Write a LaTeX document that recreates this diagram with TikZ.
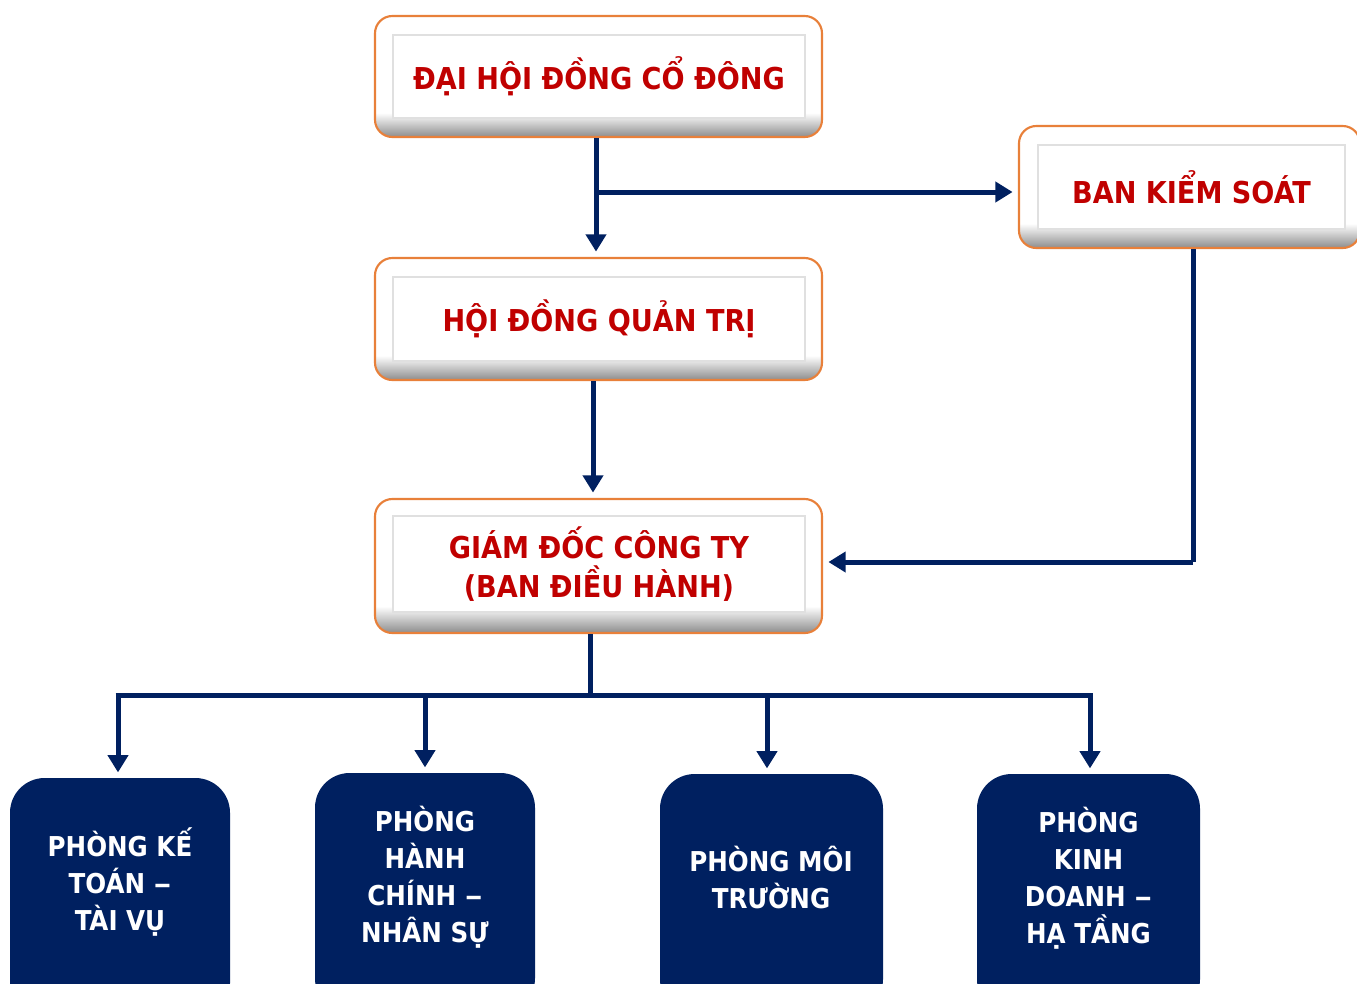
\documentclass[tikz,border=0pt]{standalone}
\usepackage{fontspec}
\usepackage{graphicx}
\setmainfont{DejaVu Sans Condensed}
\usetikzlibrary{arrows.meta}
\definecolor{navy}{HTML}{002060}
\definecolor{redtxt}{HTML}{C00000}
\definecolor{orangeb}{HTML}{E8803A}
\pgfdeclareverticalshading{bevel}{100bp}{color(0bp)=(black!45); color(25bp)=(black!45); color(35bp)=(white); color(100bp)=(white)}
\newcommand{\ldash}{\scalebox{1.45}[1]{–}}
\begin{document}
\begin{tikzpicture}[x=0.75pt,y=-0.75pt,
  outerbox/.style={draw=orangeb, line width=1.6pt, rounded corners=13pt, shading=bevel, inner sep=0pt},
  innerbox/.style={draw=black!12, line width=0.8pt, fill=white, inner sep=0pt, text=redtxt,
    font=\bfseries\fontsize{22.6}{29}\selectfont, align=center},
  navybox/.style={fill=navy, rounded corners=26pt, inner sep=0pt, minimum height=240*0.75pt},
  wtext/.style={text=white, font=\bfseries\fontsize{20.5}{27.75}\selectfont, align=center, inner sep=0pt},
  conn/.style={draw=navy, line width=3.75pt, -{Triangle[width=15pt,length=13pt]}, shorten >=4pt},
  plain/.style={draw=navy, line width=3.75pt}
]
\useasboundingbox (0,0) rectangle (1357,983);
\clip (0,0) rectangle (1357,983);

% top boxes
\node[outerbox, minimum width=447*0.75pt, minimum height=121*0.75pt] (dhF) at (598.5,76.5) {};
\node[innerbox, minimum width=412*0.75pt, minimum height=83*0.75pt] (dh) at (599,76.5) {ĐẠI HỘI ĐỒNG CỔ ĐÔNG};

\node[outerbox, minimum width=341*0.75pt, minimum height=122*0.75pt] (bksF) at (1189.5,187) {};
\node[innerbox, minimum width=307*0.75pt, minimum height=84*0.75pt] (bks) at (1191.5,187) {BAN KIỂM SOÁT};

\node[outerbox, minimum width=447*0.75pt, minimum height=122*0.75pt] (hqF) at (598.5,319) {};
\node[innerbox, minimum width=412*0.75pt, minimum height=84*0.75pt] (hq) at (599,319) {HỘI ĐỒNG QUẢN TRỊ};

\node[outerbox, minimum width=447*0.75pt, minimum height=134*0.75pt] (gdF) at (598.5,566) {};
\node[innerbox, minimum width=412*0.75pt, minimum height=96*0.75pt] (gd) at (599,564) {GIÁM ĐỐC CÔNG TY\\(BAN ĐIỀU HÀNH)};

% bottom boxes
\node[navybox, minimum width=220*0.75pt] (k1) at (120,898) {};
\node[navybox, minimum width=220*0.75pt] (k2) at (425,893) {};
\node[navybox, minimum width=223*0.75pt] (k3) at (771.5,894) {};
\node[navybox, minimum width=223*0.75pt] (k4) at (1088.5,894) {};
\node[wtext] (t1) at (120,882) {PHÒNG KẾ\\TOÁN \ldash\\TÀI VỤ};
\node[wtext] (t2) at (425,877) {PHÒNG\\HÀNH\\CHÍNH \ldash\\NHÂN SỰ};
\node[wtext] (t3) at (771,878) {PHÒNG MÔI\\TRƯỜNG};
\node[wtext] (t4) at (1088.5,878) {PHÒNG\\KINH\\DOANH \ldash\\HẠ TẦNG};

% connectors
\coordinate (br) at (596,192);
\draw[conn] (dhF.south -| br) -- (hqF.north -| br);
\draw[conn] (br) -- (br -| bksF.west);
\coordinate (hg) at (593,0);
\draw[conn] (hqF.south -| hg) -- (gdF.north -| hg);
\coordinate (bk) at (1193,562);
\draw[plain] (bksF.south -| bk) -- (bk);
\draw[conn] (bk) -- (bk -| gdF.east);

\coordinate (j1) at (118,695);
\coordinate (j2) at (425,695);
\coordinate (j3) at (767,695);
\coordinate (j4) at (1090,695);
\coordinate (jg) at (590,695);
\draw[plain] (gdF.south -| jg) -- (jg);
\draw[plain] ([xshift=-1.875pt]j1) -- ([xshift=1.875pt]j4);
\draw[conn] (j1) -- (j1 |- k1.north);
\draw[conn] (j2) -- (j2 |- k2.north);
\draw[conn] (j3) -- (j3 |- k3.north);
\draw[conn] (j4) -- (j4 |- k4.north);
\end{tikzpicture}
\end{document}
